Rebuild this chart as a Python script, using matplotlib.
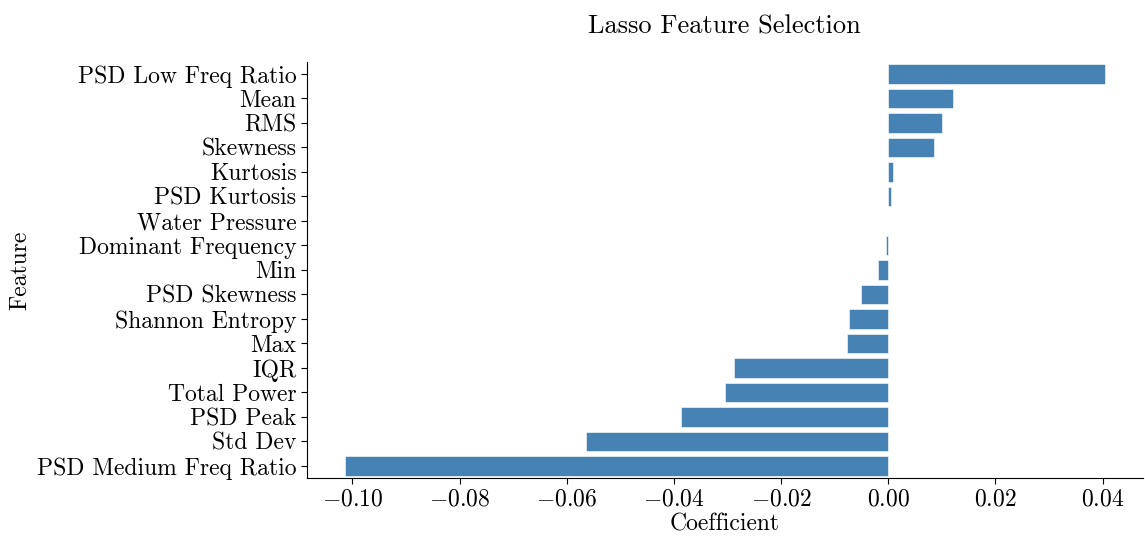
import numpy as np
import matplotlib
matplotlib.use('Agg')
import matplotlib.pyplot as plt

# Lasso coefficients per feature, sorted from largest to smallest
features = ['PSD Low Freq Ratio', 'Mean', 'RMS', 'Skewness', 'Kurtosis',
            'PSD Kurtosis', 'Water Pressure', 'Dominant Frequency', 'Min',
            'PSD Skewness', 'Shannon Entropy', 'Max', 'IQR', 'Total Power',
            'PSD Peak', 'Std Dev', 'PSD Medium Freq Ratio']
coefs = [0.0404, 0.0121, 0.0100, 0.0086, 0.0009,
         0.0006, 0.0, -0.0004, -0.0019,
         -0.0050, -0.0073, -0.0076, -0.0287, -0.0305,
         -0.0387, -0.0564, -0.1014]

plt.rcParams['font.family'] = 'serif'
plt.rcParams['font.serif'] = ['cmr10']
plt.rcParams['mathtext.fontset'] = 'cm'
plt.rcParams['axes.formatter.use_mathtext'] = True
plt.rcParams['axes.unicode_minus'] = True

fig, ax = plt.subplots(figsize=(11.45, 5.36), dpi=100)
fig.subplots_adjust(left=0.268, right=0.998, top=0.885, bottom=0.108)

y = np.arange(len(features))
ax.barh(y, coefs, height=0.8, color='steelblue', edgecolor='white', linewidth=0.4)
ax.set_yticks(y)
ax.set_yticklabels(features, fontsize=17)
ax.set_ylim(len(features) - 0.5, -0.5)
ax.set_xticks(np.arange(-0.10, 0.041, 0.02))
ax.tick_params(axis='x', labelsize=17)
ax.tick_params(axis='both', direction='out', length=4, width=0.8)

ax.set_xlabel('Coefficient', fontsize=17, labelpad=2)
ax.set_ylabel('Feature', fontsize=17)
ax.set_title('Lasso Feature Selection', fontsize=19, pad=20)

ax.spines['top'].set_visible(False)
ax.spines['right'].set_visible(False)

plt.savefig('out.png', dpi=100)
